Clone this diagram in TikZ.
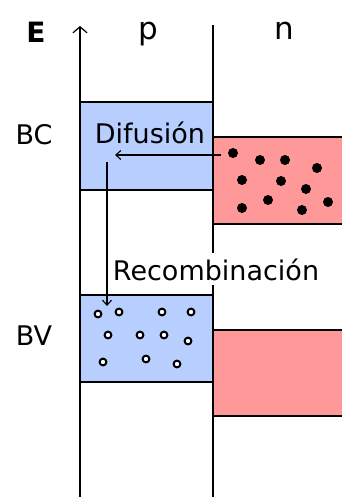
\documentclass[tikz,border=0pt]{standalone}
\usepackage{fontspec}
\setmainfont{DejaVu Sans}
\usetikzlibrary{arrows.meta}
\definecolor{bandblue}{RGB}{183,206,255}
\definecolor{bandred}{RGB}{255,153,153}
\tikzset{
  lbl/.style={font=\fontsize{27}{27}\selectfont, inner sep=0pt, anchor=base},
  bandline/.style={line width=1.7pt},
  elec/.style={fill=black, draw=none},
  hole/.style={fill=white, draw=black, line width=2pt},
  flow/.style={line width=1.3pt, -{Straight Barb[length=5pt,width=9pt,line width=1.1pt]}},
}
\begin{document}
\begin{tikzpicture}[x=1pt,y=-1pt]
\useasboundingbox (0,0) rectangle (342,497);
% bands
\fill[bandblue] (80,102) rectangle (213,190);
\fill[bandblue] (80,295) rectangle (213,382);
\fill[bandred] (213,137) rectangle (342,224);
\fill[bandred] (213,330) rectangle (342,416);
\draw[bandline] (80,102) -- (213,102) (80,190) -- (213,190);
\draw[bandline] (80,295) -- (213,295) (80,382) -- (213,382);
\draw[bandline] (213,137) -- (342,137) (213,224) -- (342,224);
\draw[bandline] (213,330) -- (342,330) (213,416) -- (342,416);
% axis and junction
\coordinate (axbot) at (80,497);
\coordinate (axtop) at (80,26);
\draw[bandline, -{Straight Barb[length=6pt,width=14pt,line width=1.2pt]}] (axbot) -- (axtop);
\coordinate (jbot) at (213,497);
\coordinate (jtop) at (213,25);
\draw[bandline] (jbot) -- (jtop);
% labels
\node[lbl, font=\fontsize{28}{28}\selectfont\bfseries] (E) at (36,43) {E};
\node[lbl, font=\fontsize{31}{31}\selectfont] (p) at (148,40) {p};
\node[lbl, font=\fontsize{31}{31}\selectfont] (n) at (284,40) {n};
\node[lbl] (BC) at (34,145) {BC};
\node[lbl] (BV) at (34,345) {BV};
\node[lbl] (dif) at (150,143) {Difusión};
\node[lbl, fill=white, inner ysep=5pt, inner xsep=1pt] (rec) at (216,280) {Recombinación};
% electrons
\foreach \x/\y [count=\i] in {233/153,260/160,285/160,317/168,242/180,281/181,306/189,242/208,268/200,302/210,328/202}
  \fill[elec] (\x,\y) circle (5) coordinate (e\i);
% holes
\foreach \x/\y [count=\i] in {98/314,119/312,162/312,191/312,108/335,140/335,164/335,188/341,103/362,146/359,177/364}
  \draw[hole] (\x,\y) circle (3.4) coordinate (h\i);
% arrows
\coordinate (dstart) at (221,155);
\coordinate (dend) at (115,155);
\draw[flow] (dstart) -- (dend);
\coordinate (rstart) at (107,162);
\coordinate (rend) at (107,306);
\draw[flow] (rstart) -- (rend);
\end{tikzpicture}
\end{document}
